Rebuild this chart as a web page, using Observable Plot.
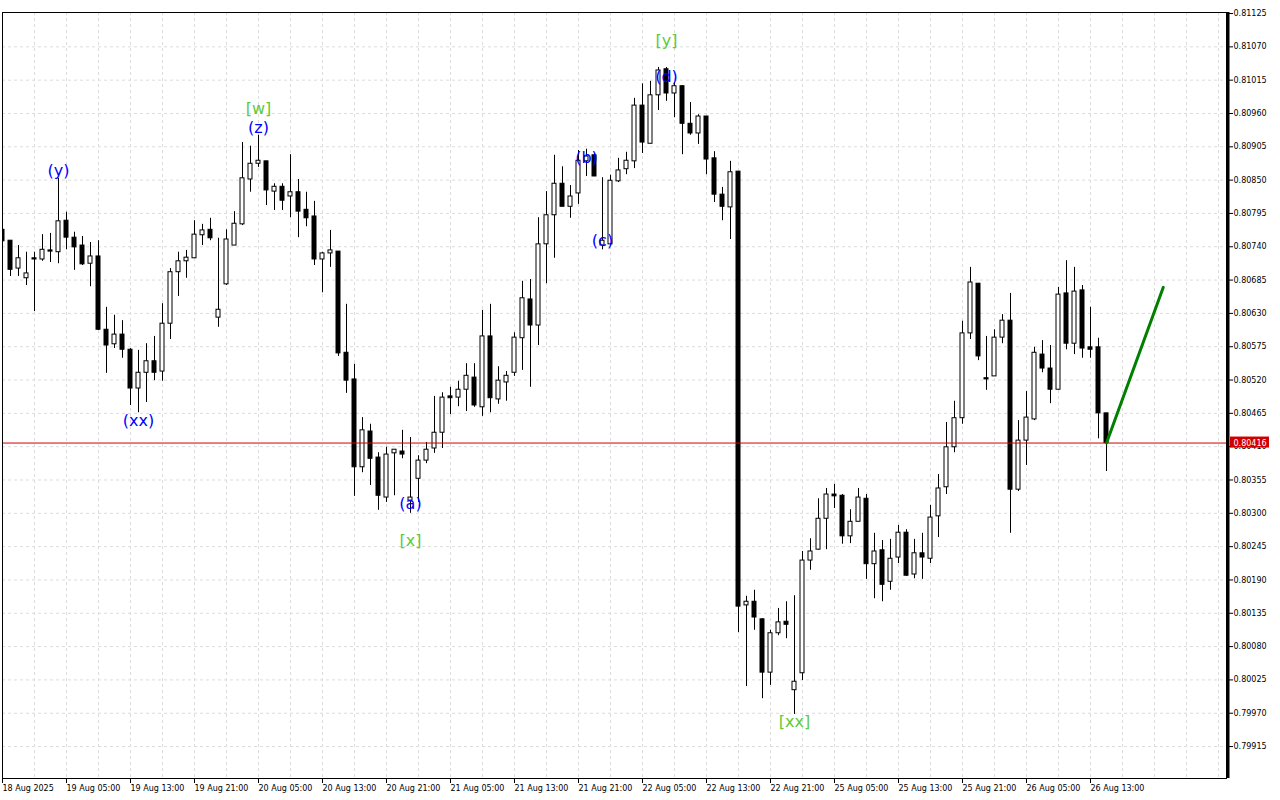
<!DOCTYPE html>
<html><head><meta charset="utf-8">
<script src="https://cdn.jsdelivr.net/npm/d3@7"></script>
<script src="https://cdn.jsdelivr.net/npm/@observablehq/plot@0.6"></script>
<style>html,body{margin:0;padding:0;background:#fff;overflow:hidden}#chart svg{display:block}</style>
</head><body><div id="chart"></div>
<script>
// H1 candles, 18 Aug 2025 21:00 -> 26 Aug 2025 15:00
const open = [0.80768,0.80750,0.80704,0.80688,0.80721,0.80719,0.80734,0.80731,0.80783,0.80755,
0.80742,0.80712,0.80724,0.80603,0.80579,0.80595,0.80570,0.80506,0.80532,0.80551,
0.80534,0.80613,0.80698,0.80716,0.80721,0.80759,0.80768,0.80623,0.80678,0.80742,
0.80777,0.80851,0.80877,0.80881,0.80831,0.80839,0.80823,0.80830,0.80801,0.80790,
0.80719,0.80729,0.80732,0.80565,0.80521,0.80376,0.80435,0.80392,0.80326,0.80399,
0.80402,0.80321,0.80357,0.80387,0.80407,0.80433,0.80493,0.80491,0.80504,0.80524,
0.80475,0.80592,0.80488,0.80516,0.80532,0.80589,0.80653,0.80610,0.80744,0.80792,
0.80844,0.80806,0.80828,0.80881,0.80891,0.80742,0.80744,0.80848,0.80868,0.80881,
0.80973,0.80910,0.80990,0.81033,0.80993,0.81005,0.80943,0.80927,0.80955,0.80886,
0.80826,0.80805,0.80864,0.80148,0.80154,0.80125,0.80037,0.80102,0.80121,0.80008,
0.80036,0.80222,0.80240,0.80291,0.80331,0.80329,0.80262,0.80286,0.80324,0.80216,
0.80239,0.80187,0.80227,0.80268,0.80199,0.80234,0.80225,0.80295,0.80343,0.80409,
0.80457,0.80597,0.80679,0.80523,0.80526,0.80590,0.80618,0.80339,0.80420,0.80455,
0.80562,0.80539,0.80504,0.80663,0.80580,0.80668,0.80574,0.80574,0.80465];
const high = [0.80770,0.80750,0.80742,0.80731,0.80731,0.80760,0.80762,0.80853,0.80797,0.80764,
0.80757,0.80747,0.80750,0.80640,0.80627,0.80618,0.80572,0.80569,0.80580,0.80592,
0.80646,0.80704,0.80731,0.80734,0.80783,0.80777,0.80787,0.80754,0.80768,0.80798,
0.80912,0.80906,0.80924,0.80881,0.80844,0.80844,0.80892,0.80851,0.80830,0.80815,
0.80731,0.80767,0.80732,0.80645,0.80546,0.80458,0.80447,0.80400,0.80409,0.80405,
0.80437,0.80425,0.80395,0.80417,0.80493,0.80499,0.80508,0.80518,0.80547,0.80547,
0.80635,0.80645,0.80542,0.80534,0.80598,0.80683,0.80686,0.80788,0.80831,0.80891,
0.80872,0.80841,0.80899,0.80901,0.80894,0.80854,0.80858,0.80886,0.80896,0.80985,
0.81009,0.81013,0.81036,0.81036,0.81011,0.81006,0.80978,0.80958,0.80955,0.80897,
0.80838,0.80881,0.80864,0.80163,0.80173,0.80126,0.80107,0.80143,0.80154,0.80164,
0.80237,0.80258,0.80324,0.80341,0.80348,0.80331,0.80306,0.80341,0.80331,0.80267,
0.80255,0.80257,0.80280,0.80273,0.80257,0.80267,0.80313,0.80364,0.80450,0.80485,
0.80617,0.80706,0.80679,0.80592,0.80603,0.80628,0.80663,0.80453,0.80501,0.80574,
0.80585,0.80577,0.80673,0.80717,0.80706,0.80676,0.80640,0.80589,0.80465];
const low = [0.80747,0.80691,0.80691,0.80676,0.80633,0.80716,0.80714,0.80712,0.80735,0.80701,
0.80709,0.80674,0.80602,0.80531,0.80572,0.80556,0.80478,0.80466,0.80483,0.80519,
0.80518,0.80587,0.80658,0.80688,0.80721,0.80742,0.80750,0.80607,0.80676,0.80742,
0.80775,0.80830,0.80871,0.80808,0.80800,0.80800,0.80788,0.80755,0.80773,0.80709,
0.80664,0.80706,0.80559,0.80498,0.80328,0.80367,0.80346,0.80305,0.80318,0.80329,
0.80390,0.80300,0.80318,0.80382,0.80399,0.80407,0.80463,0.80476,0.80468,0.80475,
0.80460,0.80466,0.80480,0.80485,0.80526,0.80536,0.80508,0.80577,0.80679,0.80721,
0.80806,0.80787,0.80810,0.80856,0.80856,0.80735,0.80742,0.80846,0.80859,0.80869,
0.80894,0.80910,0.80965,0.80980,0.80953,0.80892,0.80924,0.80909,0.80859,0.80813,
0.80783,0.80752,0.80103,0.80014,0.80107,0.79994,0.80016,0.80098,0.80093,0.79968,
0.80024,0.80206,0.80239,0.80240,0.80308,0.80249,0.80250,0.80286,0.80191,0.80159,
0.80154,0.80173,0.80217,0.80196,0.80192,0.80191,0.80217,0.80260,0.80331,0.80400,
0.80447,0.80587,0.80552,0.80503,0.80526,0.80580,0.80267,0.80336,0.80379,0.80453,
0.80532,0.80481,0.80504,0.80570,0.80562,0.80556,0.80556,0.80423,0.80369];
const close = [0.80749,0.80702,0.80721,0.80696,0.80719,0.80735,0.80732,0.80782,0.80755,0.80739,
0.80711,0.80724,0.80603,0.80577,0.80595,0.80570,0.80506,0.80532,0.80551,0.80532,
0.80613,0.80698,0.80716,0.80722,0.80760,0.80767,0.80754,0.80636,0.80752,0.80778,
0.80853,0.80877,0.80882,0.80833,0.80839,0.80816,0.80830,0.80798,0.80787,0.80719,
0.80729,0.80734,0.80564,0.80519,0.80376,0.80437,0.80390,0.80329,0.80397,0.80405,
0.80397,0.80326,0.80387,0.80405,0.80433,0.80491,0.80490,0.80504,0.80527,0.80478,
0.80592,0.80490,0.80519,0.80527,0.80590,0.80655,0.80610,0.80744,0.80792,0.80844,
0.80806,0.80823,0.80882,0.80889,0.80856,0.80750,0.80849,0.80866,0.80882,0.80973,
0.80912,0.80990,0.81031,0.80993,0.81005,0.80943,0.80927,0.80955,0.80884,0.80826,
0.80806,0.80863,0.80146,0.80154,0.80128,0.80037,0.80102,0.80120,0.80116,0.80022,
0.80222,0.80237,0.80291,0.80331,0.80328,0.80262,0.80286,0.80326,0.80216,0.80237,
0.80182,0.80225,0.80268,0.80197,0.80234,0.80227,0.80293,0.80341,0.80409,0.80457,
0.80597,0.80681,0.80559,0.80521,0.80590,0.80618,0.80339,0.80420,0.80458,0.80565,
0.80539,0.80504,0.80661,0.80580,0.80666,0.80572,0.80570,0.80465,0.80416];

const timeLabels = ["18 Aug 2025","19 Aug 05:00","19 Aug 13:00","19 Aug 21:00","20 Aug 05:00","20 Aug 13:00",
"20 Aug 21:00","21 Aug 05:00","21 Aug 13:00","21 Aug 21:00","22 Aug 05:00","22 Aug 13:00",
"22 Aug 21:00","25 Aug 05:00","25 Aug 13:00","25 Aug 21:00","26 Aug 05:00","26 Aug 13:00"];
const priceTicks = [0.81125,0.81070,0.81015,0.80960,0.80905,0.80850,0.80795,0.80740,0.80685,0.80630,0.80575,0.80520,
0.80465,0.80410,0.80355,0.80300,0.80245,0.80190,0.80135,0.80080,0.80025,0.79970,0.79915];
const currentPrice = 0.80416;

const waveText  = ["(y)","(xx)","[w]","(z)","(a)","[x]","(b)","(c)","(d)","[y]","[xx]"];
const waveBar   = [7,17,32,32,51,51,73,75,83,83,99];
const wavePrice = [0.80866,0.80452,0.80967,0.80936,0.80315,0.80254,0.80886,0.80749,0.81021,0.81080,0.79955];

const forecastBar   = [138, 145.1];
const forecastPrice = [0.80416, 0.80673];

// ---- build tables ----
const candles = open.map((o, i) => ({i, o, h: high[i], l: low[i], c: close[i]}));
const waves = waveText.map((t, k) => ({t, i: waveBar[k], p: wavePrice[k], col: t.startsWith("[") ? "#5ccb38" : "#0000ff"}));
const forecast = forecastBar.map((i, k) => ({i, p: forecastPrice[k]}));
const timeTicks = timeLabels.map((_, k) => k * 8);
const xMax = 153;
const gridX = d3.range(4, xMax, 4);
const yDomain = [0.7986226, 0.811267];

const grid = {stroke: "#dcdcdc", strokeDasharray: "3,3"};

const chart = Plot.plot({
  width: 1280, height: 800,
  marginLeft: 2, marginRight: 54, marginTop: 12, marginBottom: 22,
  x: {domain: [0, xMax], axis: null},
  y: {domain: yDomain, axis: null},
  style: {fontFamily: "DejaVu Sans", fontSize: "8px", background: "#fff", color: "#000", overflow: "visible"},
  marks: [
    Plot.ruleY(priceTicks.filter(p => p < 0.8112), grid),
    Plot.ruleX(gridX, grid),
    Plot.ruleX(candles, {x: "i", y1: "l", y2: "h", stroke: "#000", clip: true}),
    Plot.rect(candles, {
      x1: d => d.i - 0.25, x2: d => d.i + 0.25,
      y1: "o", y2: "c",
      fill: d => d.c >= d.o ? "#fff" : "#000",
      stroke: "#000", clip: true
    }),
    Plot.ruleY([currentPrice], {stroke: "#d00000"}),
    Plot.line(forecast, {x: "i", y: "p", stroke: "#008000", strokeWidth: 3}),
    Plot.text(waves, {x: "i", y: "p", text: "t", fill: "col", fontSize: 16, fontFamily: "DejaVu Sans"}),
    Plot.frame({stroke: "#000"}),
    Plot.ruleX([xMax], {stroke: "#000", strokeWidth: 3, dx: 1.5, y1: yDomain[0], y2: yDomain[1]}),
    Plot.axisY(priceTicks, {anchor: "right", tickSize: 6, tickPadding: 1, tickFormat: d => d.toFixed(5), label: null, fontSize: 8}),
    Plot.axisX(timeTicks, {anchor: "bottom", tickSize: 5, tickPadding: 2, textAnchor: "start", tickFormat: (d, k) => timeLabels[d / 8], label: null, fontSize: 8}),
    Plot.rect([currentPrice], {x1: xMax, x2: xMax, y1: d => d, y2: d => d, insetLeft: 4, insetRight: -43, insetTop: -6, insetBottom: -5, fill: "#d00000"}),
    Plot.text([currentPrice], {x: xMax, y: d => d, text: d => d.toFixed(5), fill: "#fff", textAnchor: "start", dx: 7, fontSize: 8})
  ]
});
document.getElementById("chart").appendChild(chart);
</script>
</body></html>
